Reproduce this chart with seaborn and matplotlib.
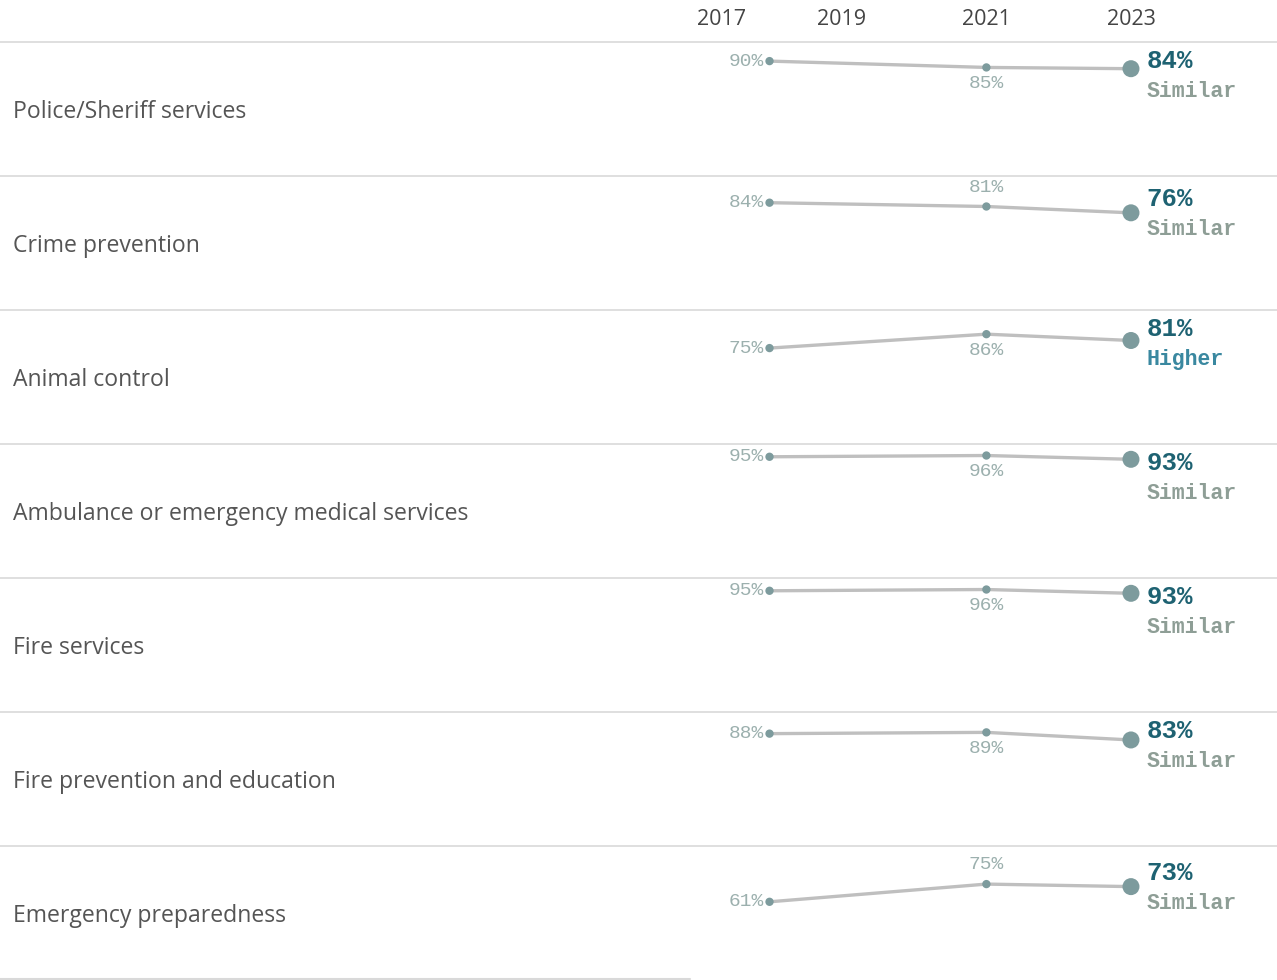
import matplotlib.pyplot as plt
import seaborn as sns
import pandas as pd
from matplotlib.lines import Line2D

# survey results, share of residents rating the service positively (%)
services = [
    "Police/Sheriff services",
    "Crime prevention",
    "Animal control",
    "Ambulance or emergency medical services",
    "Fire services",
    "Fire prevention and education",
    "Emergency preparedness",
]
pct_2017 = [90, 84, 75, 95, 95, 88, 61]
pct_2021 = [85, 81, 86, 96, 96, 89, 75]
pct_2023 = [84, 76, 81, 93, 93, 83, 73]
comparison = ["Similar", "Similar", "Higher", "Similar", "Similar", "Similar", "Similar"]
label_2021_side = ["below", "above", "below", "below", "below", "below", "above"]

# where each survey sits on the time axis (fieldwork dates as decimal years)
survey_pos = [2018.0, 2021.0, 2023.0]
axis_years = [2017, 2019, 2021, 2023]

sns.set_theme(style="white")
plt.rcParams["font.family"] = ["Open Sans", "DejaVu Sans"]

W, H = 1277, 980
fig = plt.figure(figsize=(W / 100, H / 100), dpi=100)

top0 = 42
row_h = 134
left_px = 690
line_col = "#bfbfbf"
dot_col = "#7d9b9d"
small_col = "#9cb0ae"
big_col = "#1e6272"
cmp_cols = {"Similar": "#8e9e96", "Higher": "#3a88a0"}
sep_col = "#d9d9d9"
mono = "Liberation Mono"

for i, name in enumerate(services):
    top = top0 + row_h * i
    ax = fig.add_axes([left_px / W, (H - top - row_h) / H, (W - left_px) / W, row_h / H])
    df = pd.DataFrame({"pos": survey_pos,
                       "value": [pct_2017[i], pct_2021[i], pct_2023[i]],
                       "latest": [False, False, True]})
    sns.lineplot(data=df, x="pos", y="value", color=line_col, lw=2.4, ax=ax, zorder=1)
    sns.scatterplot(data=df, x="pos", y="value", size="latest", sizes={False: 36, True: 150},
                    color=dot_col, edgecolor="none", legend=False, ax=ax, zorder=2)
    ax.set_xlim(2016.9, 2025.02)
    ax.set_ylim(-0.8, 105.1)
    ax.set_xlabel("")
    ax.set_ylabel("")
    ax.set_yticks([])
    for s in ax.spines.values():
        s.set_visible(False)
    ax.patch.set_alpha(0)

    if i == 0:
        ax.xaxis.tick_top()
        ax.set_xticks(axis_years)
        ax.set_xticklabels([str(y) for y in axis_years])
        ax.tick_params(axis="x", length=0, pad=9, labelsize=15.5, labelcolor="#444444")
        ax.get_xticklabels()[0].set_ha("left")
    else:
        ax.set_xticks([])

    v0, v1, v2 = df["value"]
    ax.annotate(f"{v0}%", (survey_pos[0], v0), xytext=(-4, 0), textcoords="offset points",
                ha="right", va="center", family=mono, fontsize=14, color=small_col)
    dy = -11.5 if label_2021_side[i] == "below" else 14
    ax.annotate(f"{v1}%", (survey_pos[1], v1), xytext=(0, dy), textcoords="offset points",
                ha="center", va="center", family=mono, fontsize=14, color=small_col)
    lab_v = min(v2 + 11, 90)
    ax.annotate(f"{v2}%", (survey_pos[2], lab_v), xytext=(11, 0), textcoords="offset points",
                ha="left", va="center", family=mono, fontsize=18.5, fontweight="bold", color=big_col)
    ax.annotate(comparison[i], (survey_pos[2], lab_v), xytext=(11, -22), textcoords="offset points",
                ha="left", va="center", family=mono, fontsize=15.5, fontweight="bold",
                color=cmp_cols[comparison[i]])

    fig.text(13 / W, 1 - (top + row_h / 2 + 9) / H, name, ha="left", va="baseline",
             fontsize=16.6, color="#555555")

# row separators
for k in range(len(services)):
    y = 1 - (top0 + row_h * k) / H
    fig.add_artist(Line2D([0, 1], [y, y], color=sep_col, lw=1.2))
yb = 1 - 979 / H
fig.add_artist(Line2D([0, left_px / W], [yb, yb], color=sep_col, lw=1.5))

fig.savefig("out.png", dpi=100)
